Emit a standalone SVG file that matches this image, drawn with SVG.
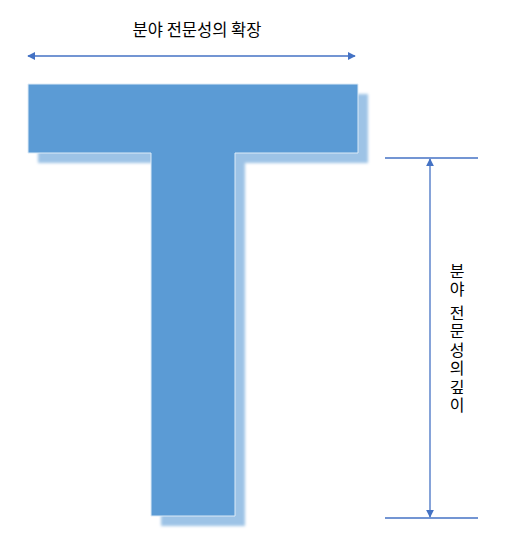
<svg xmlns="http://www.w3.org/2000/svg" width="516" height="560" viewBox="0 0 516 560">
<style>
.lbl{font-family:"Noto Sans CJK KR","Noto Sans",sans-serif;fill:#000;}
.vt{font-family:"Noto Sans CJK KR","Noto Sans",sans-serif;fill:#000;font-size:16px;writing-mode:vertical-rl;text-orientation:upright;letter-spacing:2.3px;}
.ln{stroke:#4472C4;stroke-width:1.3;fill:none;}
</style>
<defs>
<filter id="blur" x="-10%" y="-10%" width="120%" height="120%"><feGaussianBlur stdDeviation="1.5"/></filter>
<marker id="ah" viewBox="0 0 10 10" refX="9" refY="5" markerWidth="8" markerHeight="8" markerUnits="userSpaceOnUse" orient="auto-start-reverse"><path d="M0,0 L10,5 L0,10 Z" fill="#4472C4"/></marker>
</defs>
<rect width="516" height="560" fill="#fff"/>
<g id="t-shape">
<path d="M38,94 H368 V163 H245 V526 H161 V163 H38 Z" fill="#9DC3E6" filter="url(#blur)"/>
<path d="M28,84 H358 V153 H235 V516 H151 V153 H28 Z" fill="#5B9BD5" stroke="#DDEBF7" stroke-width="1"/>
</g>
<g id="connectors">
<line class="ln" x1="28" y1="56" x2="355" y2="56" marker-start="url(#ah)" marker-end="url(#ah)"/>
<line class="ln" x1="385" y1="158" x2="478" y2="158"/>
<line class="ln" x1="385" y1="518" x2="478" y2="518"/>
<line class="ln" x1="430" y1="159" x2="430" y2="517" marker-start="url(#ah)" marker-end="url(#ah)"/>
</g>
<g id="label-top">
<text class="lbl" x="197" y="36" font-size="16.5" text-anchor="middle">분야 전문성의 확장</text>
</g>
<g id="label-right">
<text class="vt" x="457" y="263">분야</text>
<text class="vt" x="457" y="305">전문성의</text>
<text class="vt" x="457" y="379">깊이</text>
</g>
</svg>
